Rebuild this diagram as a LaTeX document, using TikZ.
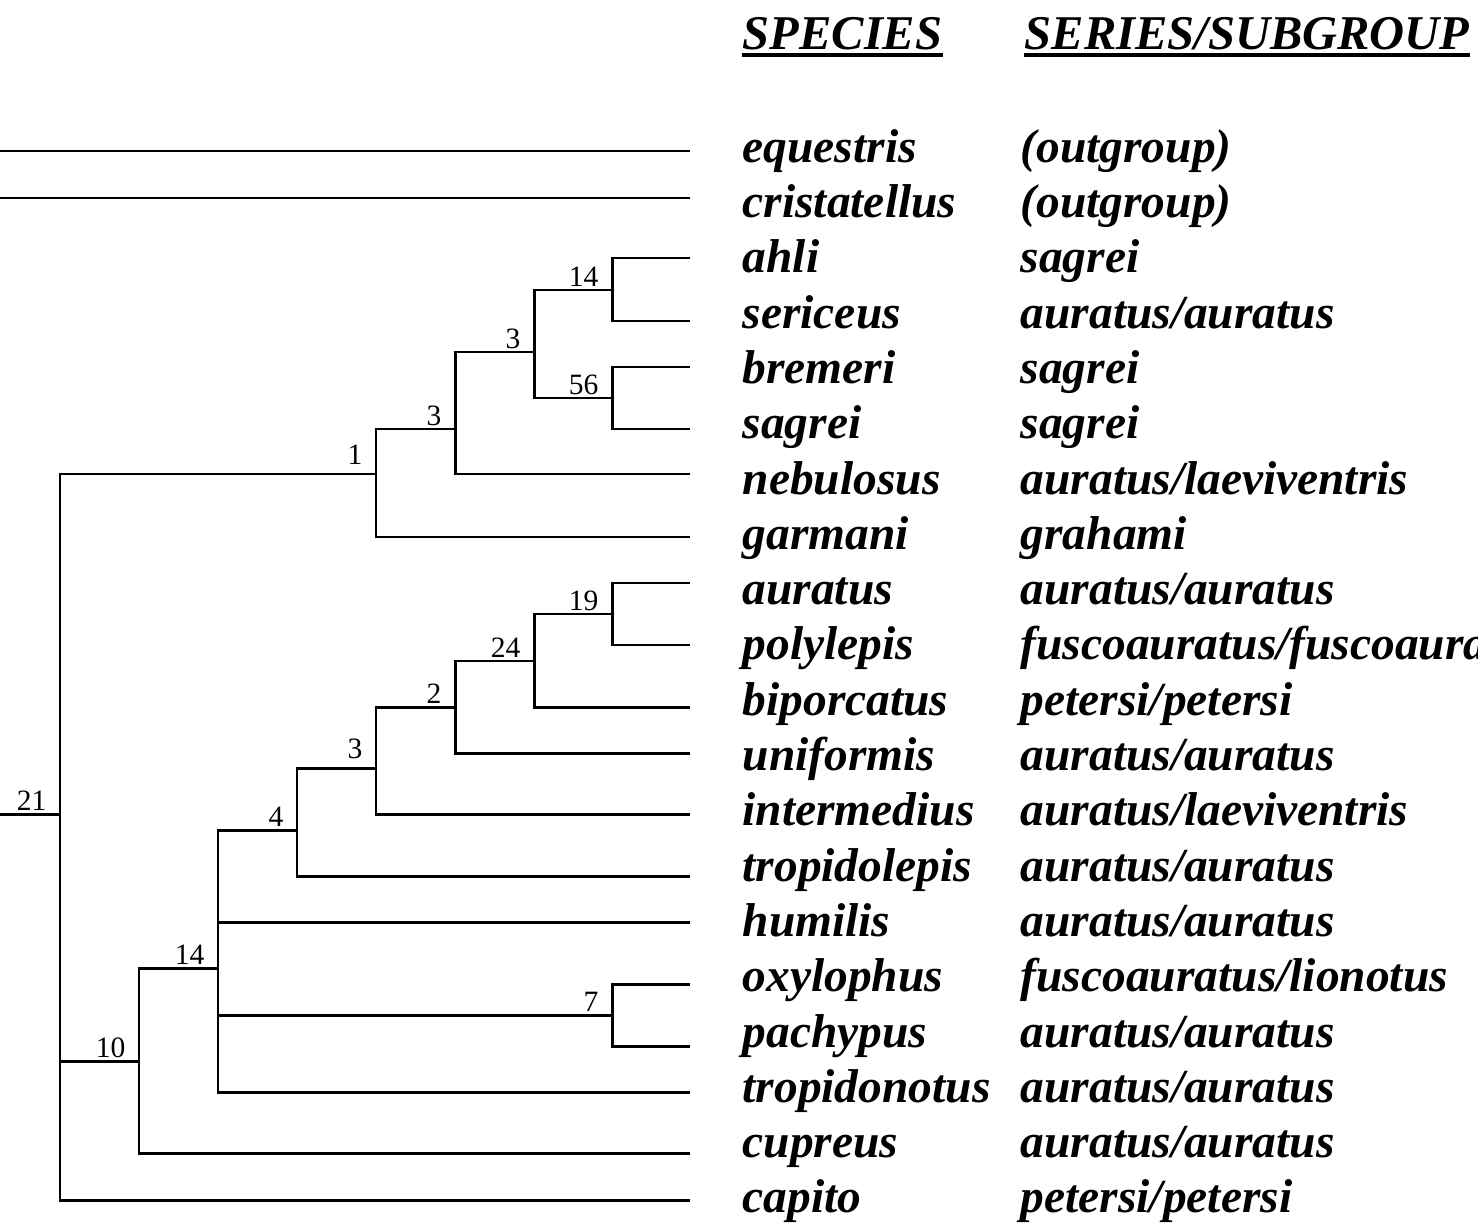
\documentclass[tikz,border=0pt]{standalone}
\usepackage{fontspec}
\setmainfont{Liberation Serif}
\usetikzlibrary{positioning}

\begin{document}
\begin{tikzpicture}[
    branch/.style={line width=0.85pt, line join=miter},
    bs/.style={inner sep=0pt, font=\fontsize{8.4}{10}\selectfont},
    taxon/.style={anchor=base west, inner sep=0pt, font=\fontsize{13.5}{16}\selectfont\bfseries\itshape},
    head/.style={taxon, font=\fontsize{13.8}{16}\selectfont\bfseries\itshape},
    uline/.style={line width=1.15pt}
]
    \useasboundingbox (0,0) rectangle (14.78,-12.24);
    % Column headings
    \node[head] (hsp) at (7.42,-0.495) {SPECIES};
    \node[head] (hgr) at (10.24,-0.495) {SERIES/SUBGROUP};
    \draw[uline] ([yshift=-0.055cm]hsp.base west) -- ([yshift=-0.055cm]hsp.base east);
    \draw[uline] ([yshift=-0.055cm]hgr.base west) -- ([yshift=-0.055cm]hgr.base east);
    % Species and series/subgroup rows
    \foreach \sp/\grp [count=\i from 0] in {equestris/{(outgroup)}, cristatellus/{(outgroup)},
        ahli/{sagrei}, sericeus/{auratus/auratus}, bremeri/{sagrei}, sagrei/{sagrei},
        nebulosus/{auratus/laeviventris}, garmani/{grahami}, auratus/{auratus/auratus},
        polylepis/{fuscoauratus/fuscoauratus}, biporcatus/{petersi/petersi},
        uniformis/{auratus/auratus}, intermedius/{auratus/laeviventris},
        tropidolepis/{auratus/auratus}, humilis/{auratus/auratus},
        oxylophus/{fuscoauratus/lionotus}, pachypus/{auratus/auratus},
        tropidonotus/{auratus/auratus}, cupreus/{auratus/auratus}, capito/{petersi/petersi}} {
        \node[taxon] (sp\i) at (7.42,{-1.623-0.553*\i}) {\sp};
        \node[taxon] (gr\i) at (10.20,{-1.623-0.553*\i}) {\grp};
    }
    % Tips
    \foreach \n/\y in {equ/1.51, cri/1.98, ahl/2.58, ser/3.21, bre/3.67, sag/4.29,
        neb/4.74, gar/5.37, aur/5.83, pol/6.45, bip/7.07, uni/7.53, int/8.14,
        tpl/8.76, hum/9.22, oxy/9.84, pac/10.46, tpn/10.92, cup/11.53, cap/12.00} {
        \coordinate (\n) at (6.90,-\y);
    }
    % Internal nodes
    \coordinate (n21) at (0.60,-8.14);
    \coordinate (n1) at (3.76,-4.74);
    \coordinate (n3a) at (4.55,-4.29);
    \coordinate (n3b) at (5.34,-3.52);
    \coordinate (n14a) at (6.12,-2.90);
    \coordinate (n56) at (6.12,-3.98);
    \coordinate (n10) at (1.39,-10.61);
    \coordinate (n14b) at (2.18,-9.68);
    \coordinate (n4) at (2.97,-8.30);
    \coordinate (n3c) at (3.76,-7.68);
    \coordinate (n2) at (4.55,-7.07);
    \coordinate (n24) at (5.34,-6.61);
    \coordinate (n19) at (6.12,-6.14);
    \coordinate (n7) at (6.12,-10.15);
    \coordinate (s21) at (0,-8.14);
    \coordinate (o1) at (0,-1.51);
    \coordinate (o2) at (0,-1.98);
    % Branches
    \draw[branch] (o1) -- (equ);
    \draw[branch] (o2) -- (cri);
    \draw[branch] (s21) -- (n21);
    \foreach \p/\c in {n21/n1, n21/n10, n21/cap, n1/n3a, n1/gar, n3a/n3b, n3a/neb,
        n3b/n14a, n3b/n56, n14a/ahl, n14a/ser, n56/bre, n56/sag,
        n10/n14b, n10/cup, n14b/n4, n14b/hum, n14b/n7, n14b/tpn,
        n4/n3c, n4/tpl, n3c/n2, n3c/int, n2/n24, n2/uni, n24/n19, n24/bip,
        n19/aur, n19/pol, n7/oxy, n7/pac} {
        \draw[branch] (\p) |- (\c);
    }
    % Support values
    \foreach \c/\t in {n21/21, n3a/3, n3b/3, n14a/14, n56/56, n10/10, n14b/14,
        n4/4, n2/2, n24/24, n19/19, n7/7} {
        \node[bs, above left=0.03cm and 0.13cm of \c] (b\c) {\t};
    }
    \node[bs, above left=0.09cm and 0.13cm of n1] (bn1) {1};
    \node[bs, above left=0.09cm and 0.13cm of n3c] (bn3c) {3};
\end{tikzpicture}
\end{document}
